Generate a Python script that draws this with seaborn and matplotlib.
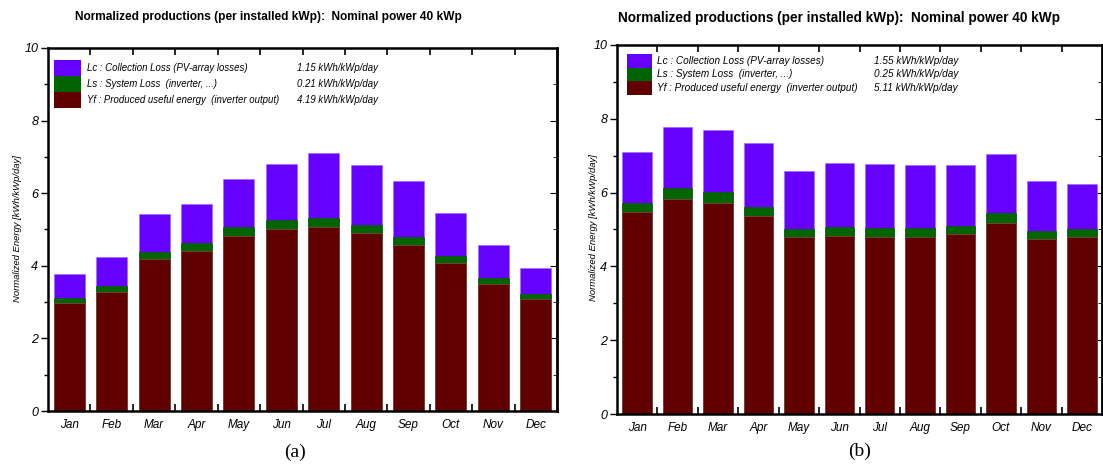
import numpy as np
import matplotlib
matplotlib.use("Agg")
import matplotlib.pyplot as plt
import seaborn as sns
from matplotlib.patches import Rectangle

months = ["Jan", "Feb", "Mar", "Apr", "May", "Jun",
          "Jul", "Aug", "Sep", "Oct", "Nov", "Dec"]

# panel (a): kWh/kWp/day
yfA = [2.98, 3.28, 4.19, 4.40, 4.81, 5.01, 5.07, 4.90, 4.57, 4.08, 3.49, 3.08]
lsA = [0.14, 0.17, 0.20, 0.22, 0.25, 0.26, 0.26, 0.22, 0.23, 0.20, 0.18, 0.14]
lcA = [0.65, 0.80, 1.03, 1.09, 1.32, 1.53, 1.77, 1.66, 1.54, 1.17, 0.90, 0.71]

# panel (b)
yfB = [5.47, 5.83, 5.72, 5.36, 4.79, 4.82, 4.80, 4.80, 4.88, 5.18, 4.73, 4.79]
lsB = [0.24, 0.29, 0.29, 0.24, 0.22, 0.25, 0.25, 0.25, 0.22, 0.26, 0.22, 0.22]
lcB = [1.39, 1.66, 1.69, 1.74, 1.58, 1.72, 1.72, 1.69, 1.64, 1.61, 1.36, 1.21]

legendLabels = ["Lc : Collection Loss (PV-array losses)",
                "Ls : System Loss  (inverter, ...)",
                "Yf : Produced useful energy  (inverter output)"]
legendValuesA = ["1.15 kWh/kWp/day", "0.21 kWh/kWp/day", "4.19 kWh/kWp/day"]
legendValuesB = ["1.55 kWh/kWp/day", "0.25 kWh/kWp/day", "5.11 kWh/kWp/day"]

titleText = "Normalized productions (per installed kWp):  Nominal power 40 kWp"
yLabelText = "Normalized Energy [kWh/kWp/day]"
purple, green, darkRed = "#6600ff", "#006400", "#600000"
fontList = ["Liberation Sans Narrow", "Liberation Sans", "DejaVu Sans"]

sns.set_style("white")
plt.rcParams["font.family"] = fontList
plt.rcParams["text.color"] = "black"
plt.rcParams["xtick.color"] = "black"
plt.rcParams["ytick.color"] = "black"


def drawPanel(ax, yf, ls, lc, values, legend):
    yf = np.array(yf)
    top1 = yf + np.array(ls)
    top2 = top1 + np.array(lc)
    edges = ["#a070ff", green, "#8a4a4a"]
    for (heights, col), ec in zip([(top2, purple), (top1, green), (yf, darkRed)], edges):
        sns.barplot(x=months, y=heights, color=col, width=0.73, ax=ax,
                    saturation=1, edgecolor=ec, linewidth=0.5)
    ax.set_xlim(-0.5, 11.5)
    ax.set_ylim(0, 10)
    ax.set_yticks([0, 2, 4, 6, 8, 10])
    ax.set_yticks(np.arange(1, 10, 2), minor=True)
    ax.set_xticks(np.arange(0.5, 11.5, 1), minor=True)
    ax.set_xticks(range(12))
    ax.set_xticklabels(months, fontstyle="italic", fontsize=8.5, color="black")
    for lab in ax.get_yticklabels():
        lab.set_fontstyle("italic")
        lab.set_fontsize(9)
        lab.set_color("black")
    ax.tick_params(axis="x", which="major", length=0, pad=6)
    ax.tick_params(axis="x", which="minor", direction="in", length=5,
                   width=1.2, top=True, bottom=True, color="black")
    ax.tick_params(axis="y", which="major", direction="out", length=5,
                   width=1, left=True, color="black", pad=2)
    ax.tick_params(axis="y", which="minor", direction="out", length=3,
                   width=1, left=True, color="black")
    sec = ax.secondary_yaxis("right")
    sec.set_yticks([0, 2, 4, 6, 8, 10])
    sec.set_yticks(np.arange(1, 10, 2), minor=True)
    sec.tick_params(which="major", direction="in", length=5, labelright=False)
    sec.tick_params(which="minor", direction="in", length=3)
    sec.spines["right"].set_linewidth(1.8)
    for sp in ax.spines.values():
        sp.set_visible(True)
        sp.set_color("black")
        sp.set_linewidth(1.8)
    ax.set_xlabel("")
    ax.set_ylabel("")

    # legend box inside axes
    x0, w, yTop0, h, labelX, valueX, fs = legend
    colors = [purple, green, darkRed]
    for i, (lab, val, col) in enumerate(zip(legendLabels, values, colors)):
        yTop = yTop0 - i * h
        ax.add_patch(Rectangle((x0, yTop - h), w, h,
                               transform=ax.transAxes, facecolor=col,
                               edgecolor="none", zorder=5))
        ax.text(labelX, yTop - h / 2, lab, transform=ax.transAxes,
                fontsize=fs, fontstyle="italic", va="center", ha="left")
        ax.text(valueX, yTop - h / 2, val, transform=ax.transAxes,
                fontsize=fs, fontstyle="italic", va="center", ha="left")


W, H = 1103, 465
fig = plt.figure(figsize=(W / 100, H / 100), dpi=100)
axA = fig.add_axes([48 / W, 54 / H, 509 / W, 363 / H])
axB = fig.add_axes([617 / W, 51 / H, 485 / W, 369 / H])

drawPanel(axA, yfA, lsA, lcA, legendValuesA,
          (0.012, 0.053, 0.967, 0.044, 0.077, 0.49, 6.9))
drawPanel(axB, yfB, lsB, lcB, legendValuesB,
          (0.021, 0.052, 0.976, 0.037, 0.082, 0.53, 7.2))

fig.text(268 / W, 1 - 17 / H, titleText, fontsize=8.6, fontweight="bold",
         ha="center", va="center")
fig.text(839 / W, 1 - 18 / H, titleText, fontsize=9.8, fontweight="bold",
         ha="center", va="center")

fig.text(18 / W, 1 - 229 / H, yLabelText, fontsize=6.8, fontstyle="italic",
         rotation=90, ha="center", va="center")
fig.text(593 / W, 1 - 228 / H, yLabelText, fontsize=6.8, fontstyle="italic",
         rotation=90, ha="center", va="center")

fig.text(295 / W, 1 - 452 / H, "(a)", family=["Liberation Serif", "DejaVu Serif"],
         fontsize=14, ha="center", va="center")
fig.text(860 / W, 1 - 451 / H, "(b)", family=["Liberation Serif", "DejaVu Serif"],
         fontsize=14, ha="center", va="center")

fig.savefig("out.png", dpi=100, facecolor="white")
